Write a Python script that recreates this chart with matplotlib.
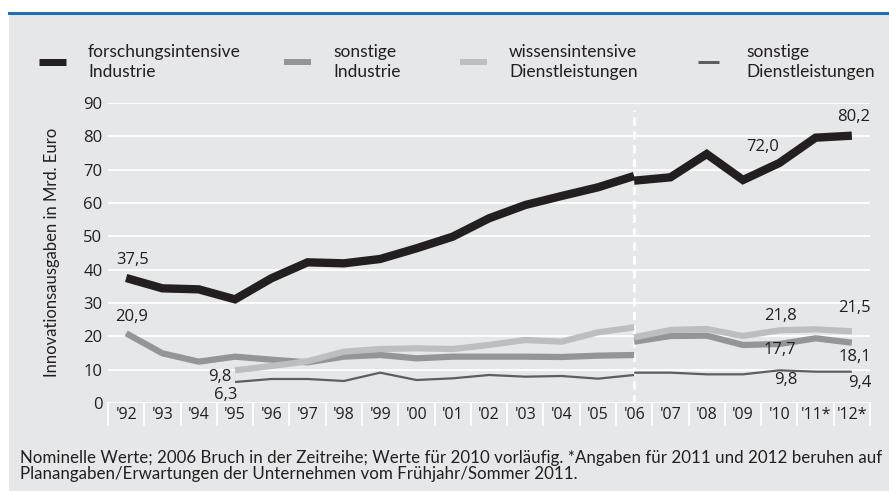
import matplotlib
matplotlib.use("Agg")
import matplotlib.pyplot as plt
import matplotlib.transforms as mtrans
from matplotlib.lines import Line2D

# ---------------- data ----------------
year_labels = ["'92", "'93", "'94", "'95", "'96", "'97", "'98", "'99", "'00", "'01",
               "'02", "'03", "'04", "'05", "'06", "'07", "'08", "'09", "'10", "'11*", "'12*"]

# forschungsintensive Industrie ('92-'06, break, '06-'12)
fi_a = [37.5, 34.4, 34.1, 31.1, 37.4, 42.2, 41.9, 43.2, 46.4, 49.9, 55.4, 59.4, 62.1, 64.7, 68.1]
fi_b = [66.7, 67.7, 74.7, 66.9, 72.0, 79.6, 80.2]
# sonstige Industrie
si_a = [20.9, 14.9, 12.4, 13.9, 13.0, 12.2, 13.9, 14.4, 13.4, 13.9, 13.9, 13.9, 13.8, 14.2, 14.4]
si_b = [18.4, 20.1, 20.2, 17.4, 17.7, 19.4, 18.1]
# wissensintensive Dienstleistungen ('95-'06, '06-'12)
wd_a = [9.8, 11.1, 12.5, 15.4, 16.2, 16.4, 16.2, 17.4, 18.9, 18.4, 21.2, 22.7]
wd_b = [19.7, 21.9, 22.2, 20.1, 21.8, 22.1, 21.5]
# sonstige Dienstleistungen
sd_a = [6.3, 7.2, 7.2, 6.6, 9.1, 6.9, 7.4, 8.4, 7.9, 8.1, 7.3, 8.4]
sd_b = [9.1, 9.1, 8.6, 8.6, 9.8, 9.4, 9.4]

series_names = ["forschungsintensive\nIndustrie", "sonstige\nIndustrie",
                "wissensintensive\nDienstleistungen", "sonstige\nDienstleistungen"]

y_ticks = [0, 10, 20, 30, 40, 50, 60, 70, 80, 90]
break_index = 14

footnote = ("Nominelle Werte; 2006 Bruch in der Zeitreihe; Werte für 2010 vorläufig. "
            "*Angaben für 2011 und 2012 beruhen auf\n"
            "Planangaben/Erwartungen der Unternehmen vom Frühjahr/Sommer 2011.")

# ---------------- style ----------------
BG = "#e6e7e8"
C_BLACK = "#231f20"
C_MID = "#939598"
C_LIGHT = "#bcbec0"
C_DARK = "#5d5e60"
BLUE = "#1f6fb6"
NUMFONT = ["Open Sans", "DejaVu Sans"]
TXTFONT = ["Lato", "DejaVu Sans"]

W, H = 889, 491
fig = plt.figure(figsize=(W / 100, H / 100), dpi=100)
fig.patch.set_facecolor("white")

# gray panel below the blue rule
fig.patches.append(plt.Rectangle((9 / W, 0), 1 - 9 / W, (H - 12) / H,
                                 transform=fig.transFigure, facecolor=BG,
                                 edgecolor="none", zorder=-5))
fig.lines.append(Line2D([9 / W, 1], [(H - 12.5) / H] * 2, transform=fig.transFigure,
                        color=BLUE, lw=2.2, zorder=1))

left, right, top, bottom = 108, 870, 103, 403
ax = fig.add_axes([left / W, (H - bottom) / H, (right - left) / W, (bottom - top) / H])
ax.set_zorder(3)
ax.set_facecolor(BG)
ax.set_xlim(-0.5, len(year_labels) - 0.5)
ax.set_ylim(0, 90)
for s in ax.spines.values():
    s.set_visible(False)

for yv in y_ticks:
    ax.axhline(yv, color="white", lw=1.3, zorder=1)

ax.set_yticks(y_ticks)
ax.set_yticklabels([str(v) for v in y_ticks], fontsize=12, family=NUMFONT, color="#231f20")
ax.tick_params(axis="y", length=0, pad=4)
ax.set_xticks(range(len(year_labels)))
ax.set_xticklabels(year_labels, fontsize=11.5, family=NUMFONT, color="#231f20")
ax.tick_params(axis="x", length=0, pad=3)

# cell separators below the zero line
trans = mtrans.blended_transform_factory(ax.transData, ax.transAxes)
for i in range(len(year_labels) + 1):
    ax.add_line(Line2D([i - 0.5, i - 0.5], [0, -22 / 300], transform=trans,
                       color="white", lw=1.3, clip_on=False, zorder=1))

# break line
ax.plot([break_index, break_index], [0, 88], color="white", lw=2,
        linestyle=(0, (3, 2)), zorder=2)

x_a = list(range(0, break_index + 1))
x_b = list(range(break_index, len(year_labels)))
x_a95 = list(range(3, break_index + 1))

kw = dict(solid_joinstyle="miter", solid_capstyle="butt")
ax.plot(x_a95, sd_a, color=C_DARK, lw=1.6, zorder=3, **kw)
ax.plot(x_b, sd_b, color=C_DARK, lw=1.6, zorder=3, **kw)
ax.plot(x_a, si_a, color=C_MID, lw=4.5, zorder=4, **kw)
ax.plot(x_b, si_b, color=C_MID, lw=4.5, zorder=4, **kw)
ax.plot(x_a95, wd_a, color=C_LIGHT, lw=4.5, zorder=5, **kw)
ax.plot(x_b, wd_b, color=C_LIGHT, lw=4.5, zorder=5, **kw)
ax.plot(x_a, fi_a, color=C_BLACK, lw=6, zorder=6, **kw)
ax.plot(x_b, fi_b, color=C_BLACK, lw=6, zorder=6, **kw)

def fmt(v):
    return f"{v:.1f}".replace(".", ",")

lab = dict(fontsize=12, family=NUMFONT, color="#231f20", zorder=7)
ax.text(0.19, 42.9, fmt(fi_a[0]), ha="center", va="center", **lab)
ax.text(0.16, 25.8, fmt(si_a[0]), ha="center", va="center", **lab)
ax.text(2.89, 7.8, fmt(wd_a[0]), ha="right", va="center", **lab)
ax.text(2.73, 2.4, fmt(sd_a[0]), ha="center", va="center", **lab)
ax.text(17.55, 76.8, fmt(fi_b[4]), ha="center", va="center", **lab)
ax.text(20.06, 85.8, fmt(fi_b[6]), ha="center", va="center", **lab)
ax.text(18.02, 26.1, fmt(wd_b[4]), ha="center", va="center", **lab)
ax.text(20.08, 28.5, fmt(wd_b[6]), ha="center", va="center", **lab)
ax.text(18.02, 15.9, fmt(si_b[4]), ha="center", va="center", **lab)
ax.text(20.08, 13.8, fmt(si_b[6]), ha="center", va="center", **lab)
ax.text(18.18, 6.9, fmt(sd_b[4]), ha="center", va="center", **lab)
ax.text(20.22, 6.0, fmt(sd_b[6]), ha="center", va="center", **lab)

# y label
fig.text(52 / W, 1 - 252 / H, "Innovationsausgaben in Mrd. Euro", rotation=90,
         ha="center", va="center", fontsize=12, family=TXTFONT, color="#231f20")

# legend
handles = [(39, 66, C_BLACK, 7), (284, 311, C_MID, 6), (460, 487, C_LIGHT, 6), (698, 719, C_DARK, 3)]
text_x = [88, 333, 509, 746]
for (x0, x1, c, lw_px), tx, name in zip(handles, text_x, series_names):
    fig.lines.append(Line2D([x0 / W, x1 / W], [1 - 62 / H] * 2, transform=fig.transFigure,
                            color=c, lw=lw_px * 0.72, solid_capstyle="butt"))
    fig.text(tx / W, 1 - 62 / H, name, ha="left", va="center", fontsize=12.5,
             family=TXTFONT, color="#231f20", linespacing=1.3)

# footnote
fig.text(20 / W, 1 - 466 / H, footnote, ha="left", va="center", fontsize=12.2,
         family=TXTFONT, color="#231f20", linespacing=1.05)

fig.savefig("out.png", dpi=100, facecolor=fig.get_facecolor())
